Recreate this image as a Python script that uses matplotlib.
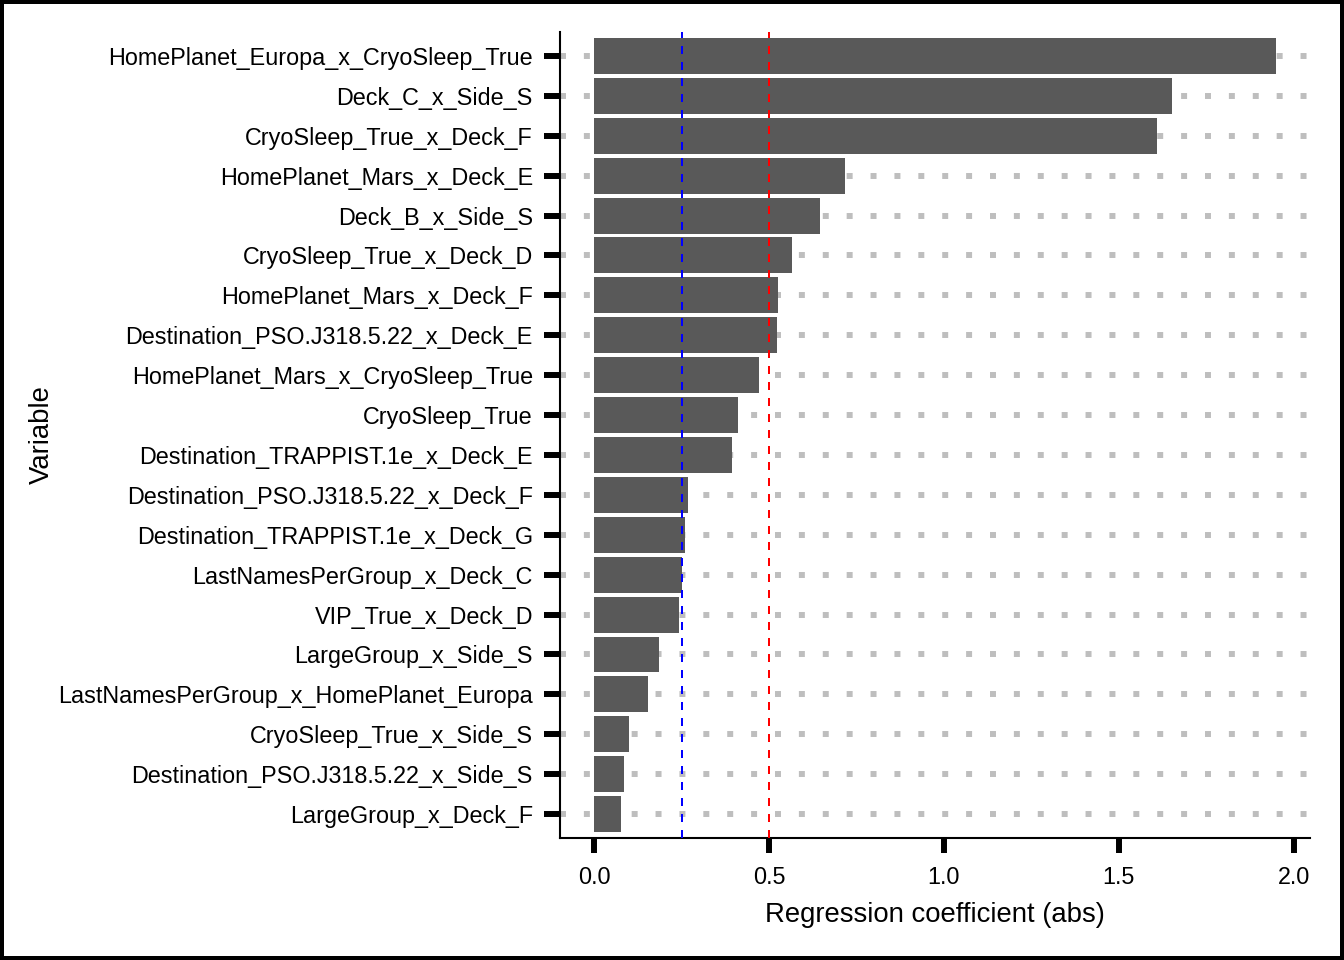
import matplotlib
matplotlib.use("Agg")
import matplotlib.pyplot as plt

plt.rcParams['font.family'] = ['Liberation Sans', 'DejaVu Sans']

# coefficients, top to bottom as shown
variables = [
    "HomePlanet_Europa_x_CryoSleep_True",
    "Deck_C_x_Side_S",
    "CryoSleep_True_x_Deck_F",
    "HomePlanet_Mars_x_Deck_E",
    "Deck_B_x_Side_S",
    "CryoSleep_True_x_Deck_D",
    "HomePlanet_Mars_x_Deck_F",
    "Destination_PSO.J318.5.22_x_Deck_E",
    "HomePlanet_Mars_x_CryoSleep_True",
    "CryoSleep_True",
    "Destination_TRAPPIST.1e_x_Deck_E",
    "Destination_PSO.J318.5.22_x_Deck_F",
    "Destination_TRAPPIST.1e_x_Deck_G",
    "LastNamesPerGroup_x_Deck_C",
    "VIP_True_x_Deck_D",
    "LargeGroup_x_Side_S",
    "LastNamesPerGroup_x_HomePlanet_Europa",
    "CryoSleep_True_x_Side_S",
    "Destination_PSO.J318.5.22_x_Side_S",
    "LargeGroup_x_Deck_F",
]
coef_abs = [1.949, 1.652, 1.609, 0.716, 0.645, 0.565, 0.525, 0.524, 0.471, 0.411,
            0.394, 0.268, 0.260, 0.251, 0.243, 0.185, 0.154, 0.100, 0.086, 0.077]

threshold_lo = 0.25
threshold_hi = 0.5
x_ticks = [0.0, 0.5, 1.0, 1.5, 2.0]

fig = plt.figure(figsize=(13.44, 9.6), dpi=100)
fig.patch.set_edgecolor("black")
fig.patch.set_linewidth(4.5)
ax = fig.add_axes([560 / 1344, 122 / 960, 750 / 1344, 806 / 960])

labels = variables[::-1]
vals = coef_abs[::-1]
pos = list(range(len(labels)))

# dotted grid behind bars
for p in pos:
    ax.axhline(p, color="#bebebe", lw=4.3, linestyle=(0, (1, 3)),
               dash_capstyle="butt", zorder=0.5)

ax.barh(pos, vals, height=0.9, color="#595959", zorder=2)
ax.axvline(threshold_lo, color="blue", lw=1.44, linestyle=(0, (4, 4)), zorder=3)
ax.axvline(threshold_hi, color="red", lw=1.44, linestyle=(0, (4, 4)), zorder=3)

ax.set_yticks(pos)
ax.set_yticklabels(labels)
ax.set_xticks(x_ticks)
ax.set_xticklabels([f"{t:.1f}" for t in x_ticks])
ax.set_ylim(-0.6, len(labels) - 0.4)
span = max(coef_abs)
ax.set_xlim(-0.05 * span, 1.05 * span)

for s in ["top", "right"]:
    ax.spines[s].set_visible(False)
for s in ["left", "bottom"]:
    ax.spines[s].set_linewidth(1.5)

ax.tick_params(axis="y", length=11.5, width=4.3, pad=8, labelsize=16.8)
ax.tick_params(axis="x", length=11, width=4.3, pad=9, labelsize=16.8)

# axis titles placed in figure pixels
fig.text(935 / 1344, 1 - 915 / 960, "Regression coefficient (abs)",
         fontsize=19.8, ha="center", va="center")
fig.text(42 / 1344, 1 - 435 / 960, "Variable", fontsize=19.8,
         rotation=90, ha="center", va="center")

fig.savefig("out.png", dpi=100)
